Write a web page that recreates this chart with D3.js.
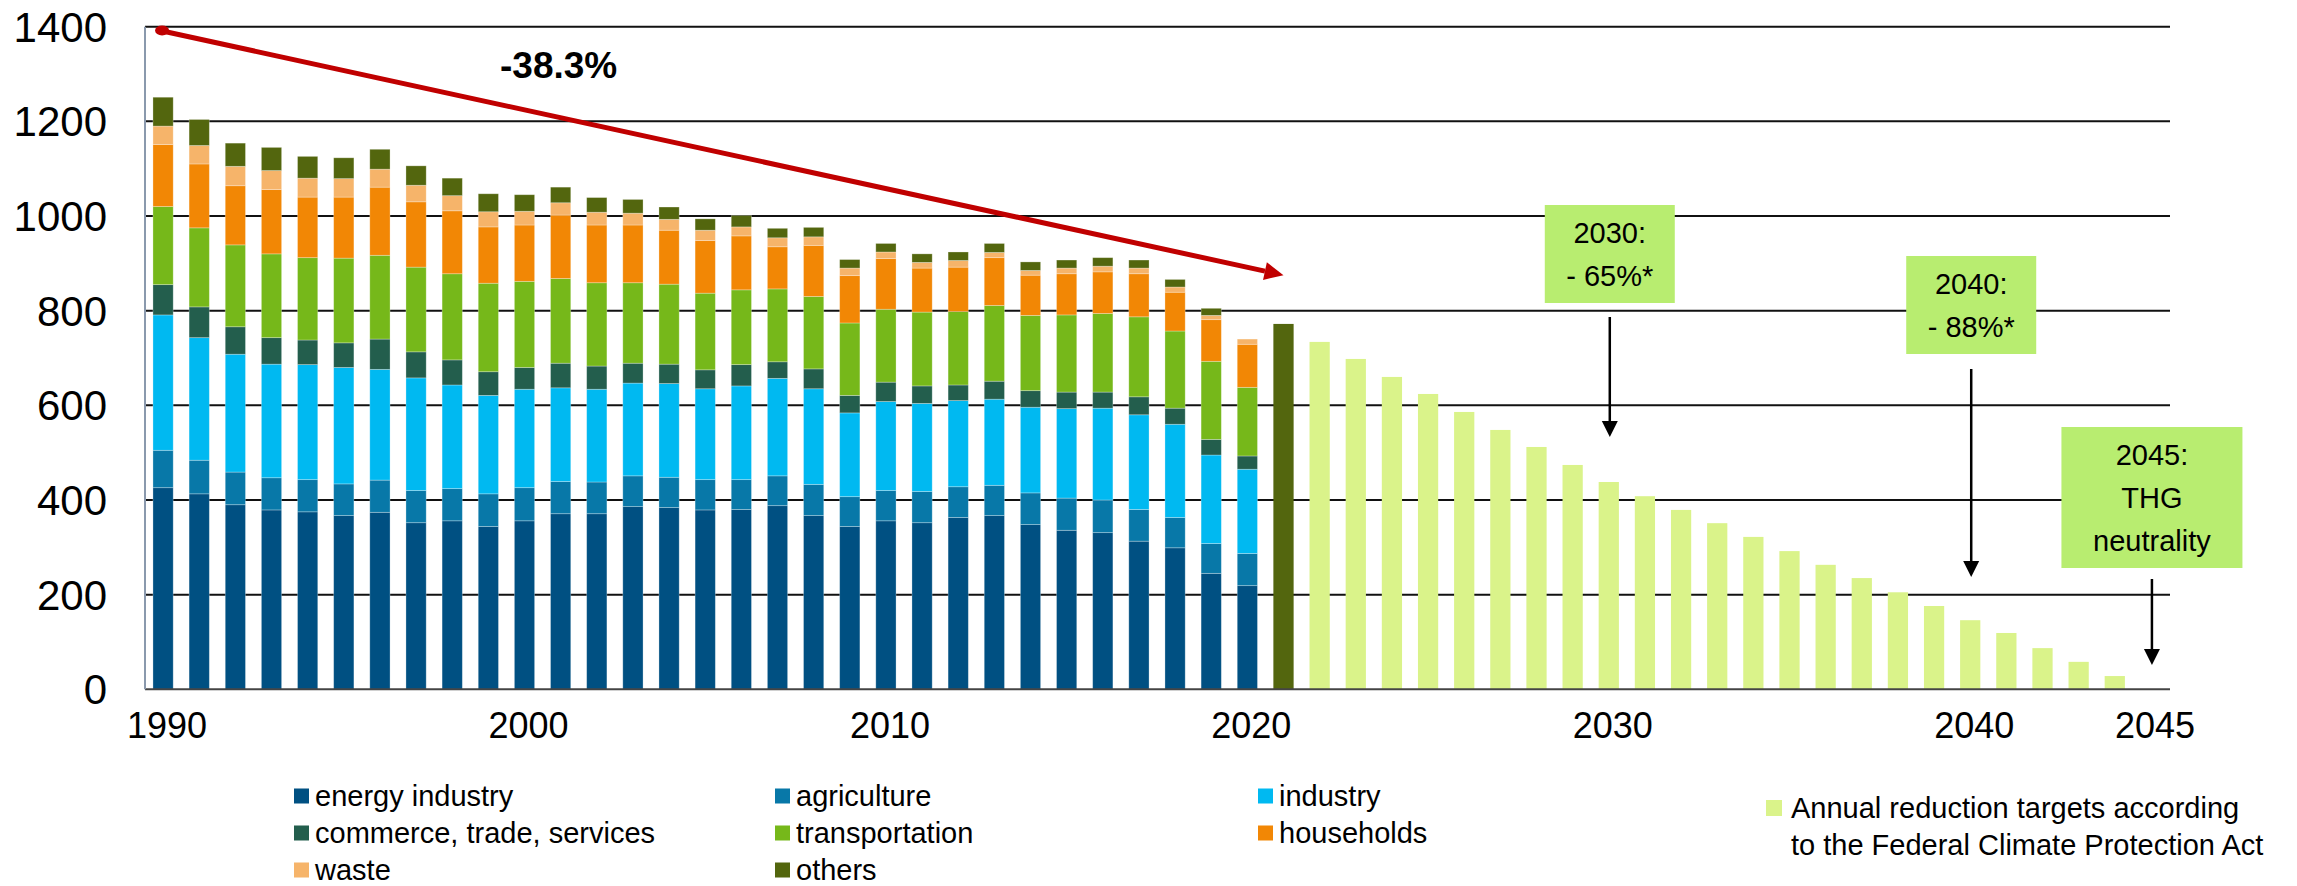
<!DOCTYPE html>
<html>
<head>
<meta charset="utf-8">
<script src="https://cdn.jsdelivr.net/npm/d3@7"></script>
<style>
  body { margin: 0; background: #fff; }
  svg { display: block; font-family: "Liberation Sans", Arial, sans-serif; }
</style>
</head>
<body>
<div id="chart"></div>
<script>
// historic emissions by sector, 1990-2020 (Mt CO2 eq.)
const years = [1990,1991,1992,1993,1994,1995,1996,1997,1998,1999,2000,2001,2002,2003,2004,2005,
               2006,2007,2008,2009,2010,2011,2012,2013,2014,2015,2016,2017,2018,2019,2020];
const energy      = [426,413,390,379,375,367,374,352,356,344,356,371,371,386,384,379,380,388,367,344,356,352,363,367,348,336,331,313,299,245,219];
const agriculture = [79,71,69,68,68,67,68,68,68,69,70,68,67,65,64,64,63,63,66,63,64,66,65,64,67,68,69,67,64,63,68];
const industry    = [286,259,249,240,243,246,234,238,219,208,208,198,196,196,198,192,198,206,202,177,188,186,182,182,181,189,194,200,197,187,178];
const commerce    = [64,65,58,56,52,52,64,55,53,50,46,52,49,42,41,40,45,35,42,37,41,37,33,38,35,35,34,38,34,33,28];
const transport   = [165,167,173,177,174,179,177,179,182,187,182,179,176,170,169,162,158,154,153,153,154,156,155,160,159,163,166,169,163,165,145];
const households  = [131,135,125,136,128,129,144,138,133,119,119,134,122,122,114,111,114,89,108,100,107,93,94,101,85,87,88,91,82,88,91];
const waste       = [39,39,41,40,40,39,38,35,32,32,29,26,27,25,23,22,19,19,18,16,14,12,14,11,10,12,12,12,11,9,11];
const others      = [61,55,49,49,46,44,42,41,37,38,35,33,31,29,26,24,24,20,20,18,18,18,18,19,18,17,18,17,16,15,0];

const year2021 = 2021, value2021 = 772;

// annual targets of the Federal Climate Protection Act
const targetYears  = [2022,2023,2024,2025,2026,2027,2028,2029,2030,2031,2032,2033,2034,2035,2036,2037,2038,2039,2040,2041,2042,2043,2044];
const targetValues = [734,698,660,624,586,548,512,474,438,408,379,351,322,292,263,235,205,176,146,119,87,58,28];

const allYears = [...years, year2021, ...targetYears, 2045];
const yTicks = [0,200,400,600,800,1000,1200,1400];
const xTickYears = [1990,2000,2010,2020,2030,2040,2045];

const sectorKeys   = ["energy industry","agriculture","industry","commerce, trade, services","transportation","households","waste","others"];
const sectorSeries = [energy, agriculture, industry, commerce, transport, households, waste, others];
const sectorColors = ["#005082","#0878a8","#00b9f1","#235e4d","#76b81a","#f28705","#f6b46a","#53660e"];
const targetColor = "#daf38a", boxColor = "#b8ed70";

const width = 2297, height = 886;

const svg = d3.select("#chart").append("svg")
    .attr("width", width).attr("height", height)
    .attr("viewBox", [0, 0, width, height]);

const x = d3.scaleBand()
    .domain(allYears)
    .range([145, 2169])
    .paddingInner(0.44)
    .paddingOuter(0.22);

const y = d3.scaleLinear()
    .domain([0, 1400])
    .range([689.3, 26.7]);

const xc = yr => x(yr) + x.bandwidth() / 2;

// gridlines
svg.append("g")
  .selectAll("line")
  .data(yTicks.filter(d => d > 0))
  .join("line")
    .attr("x1", 145).attr("x2", 2170)
    .attr("y1", d => y(d)).attr("y2", d => y(d))
    .attr("stroke", "#111").attr("stroke-width", 2);

// y labels
svg.append("g")
  .selectAll("text")
  .data(yTicks)
  .join("text")
    .attr("x", 107)
    .attr("y", d => y(d))
    .attr("dy", "0.36em")
    .attr("text-anchor", "end")
    .style("font-size", "42px")
    .text(d => d);

// stacked bars
const table = years.map((yr, i) => {
  const row = { year: yr };
  sectorKeys.forEach((k, j) => row[k] = sectorSeries[j][i]);
  return row;
});
const stacked = d3.stack().keys(sectorKeys)(table);

svg.append("g")
  .selectAll("g")
  .data(stacked)
  .join("g")
    .attr("fill", (d, i) => sectorColors[i])
  .selectAll("rect")
  .data(d => d)
  .join("rect")
    .attr("x", d => x(d.data.year))
    .attr("width", x.bandwidth())
    .attr("y", d => y(d[1]))
    .attr("height", d => Math.max(0, y(d[0]) - y(d[1])))
    .attr("stroke", "rgba(255,255,255,0.35)")
    .attr("stroke-width", 0.8);

// 2021 estimate
svg.append("rect")
    .attr("x", x(year2021))
    .attr("width", x.bandwidth())
    .attr("y", y(value2021))
    .attr("height", y(0) - y(value2021))
    .attr("fill", "#53660e");

// target bars
svg.append("g")
  .selectAll("rect")
  .data(targetYears.map((yr, i) => ({ year: yr, value: targetValues[i] })))
  .join("rect")
    .attr("x", d => x(d.year))
    .attr("width", x.bandwidth())
    .attr("y", d => y(d.value))
    .attr("height", d => y(0) - y(d.value))
    .attr("fill", targetColor);

// axes lines
svg.append("line")
    .attr("x1", 145).attr("x2", 2170)
    .attr("y1", y(0)).attr("y2", y(0))
    .attr("stroke", "#444").attr("stroke-width", 2);
svg.append("line")
    .attr("x1", 145).attr("x2", 145)
    .attr("y1", y(1400)).attr("y2", y(0))
    .attr("stroke", "#8a99ad").attr("stroke-width", 2);

// x labels
svg.append("g")
  .selectAll("text")
  .data(xTickYears)
  .join("text")
    .attr("x", d => xc(d) + 4)
    .attr("y", 738)
    .attr("text-anchor", "middle")
    .style("font-size", "36px")
    .text(d => d);

// red trend arrow
const x0 = xc(1990) - 3, y0 = y(1392);
const x1 = xc(2021), y1 = y(875);
const ang = Math.atan2(y1 - y0, x1 - x0);
const headL = 19, headW = 9;
const bx = x1 - headL * Math.cos(ang), by = y1 - headL * Math.sin(ang);
svg.append("line")
    .attr("x1", x0).attr("y1", y0)
    .attr("x2", bx).attr("y2", by)
    .attr("stroke", "#c00000").attr("stroke-width", 5);
svg.append("ellipse")
    .attr("cx", x0 + 2).attr("cy", y0)
    .attr("rx", 7).attr("ry", 5)
    .attr("fill", "#c00000");
svg.append("polygon")
    .attr("points", [
      [x1, y1],
      [bx + headW * Math.sin(ang), by - headW * Math.cos(ang)],
      [bx - headW * Math.sin(ang), by + headW * Math.cos(ang)]
    ].map(p => p.join(",")).join(" "))
    .attr("fill", "#c00000");

svg.append("text")
    .attr("x", 500).attr("y", 78)
    .style("font-size", "37px")
    .style("font-weight", "bold")
    .text("-38.3%");

// target annotation boxes and arrows
const notes = [
  { year: 2030, top: 205, w: 130, h: 98, lines: ["2030:", "- 65%*"], arrowFrom: 317, arrowTo: 437 },
  { year: 2040, top: 256, w: 130, h: 98, lines: ["2040:", "- 88%*"], arrowFrom: 369, arrowTo: 577 },
  { year: 2045, top: 427, w: 181, h: 141, lines: ["2045:", "THG", "neutrality"], arrowFrom: 579, arrowTo: 665 }
];

const note = svg.append("g").selectAll("g").data(notes).join("g");
note.append("rect")
    .attr("x", d => xc(d.year) + 1 - d.w / 2)
    .attr("y", d => d.top)
    .attr("width", d => d.w).attr("height", d => d.h)
    .attr("fill", boxColor);
note.each(function(d) {
  const g = d3.select(this);
  d.lines.forEach((t, i) => {
    g.append("text")
      .attr("x", xc(d.year) + 1)
      .attr("y", d.top + 28 + i * 43)
      .attr("dy", "0.36em")
      .attr("text-anchor", "middle")
      .style("font-size", "29px")
      .text(t);
  });
  g.append("line")
    .attr("x1", xc(d.year) + 1).attr("x2", xc(d.year) + 1)
    .attr("y1", d.arrowFrom).attr("y2", d.arrowTo - 14)
    .attr("stroke", "#000").attr("stroke-width", 2.5);
  const tx = xc(d.year) + 1;
  g.append("polygon")
    .attr("points", `${tx},${d.arrowTo} ${tx - 8},${d.arrowTo - 16} ${tx + 8},${d.arrowTo - 16}`)
    .attr("fill", "#000");
});

// legend
const legendCols = [294, 775, 1258];
const legendRows = [796, 833, 870];
const legend = svg.append("g")
  .selectAll("g")
  .data(sectorKeys)
  .join("g")
    .attr("transform", (d, i) => `translate(${legendCols[i % 3]},${legendRows[Math.floor(i / 3)]})`);
legend.append("rect")
    .attr("x", 0).attr("y", -7.5)
    .attr("width", 15).attr("height", 15)
    .attr("fill", (d, i) => sectorColors[i]);
legend.append("text")
    .attr("x", 21).attr("y", 0)
    .attr("dy", "0.36em")
    .style("font-size", "29px")
    .text(d => d);

const tl = svg.append("g").attr("transform", "translate(1766,808)");
tl.append("rect")
    .attr("x", 0).attr("y", -8)
    .attr("width", 16).attr("height", 16)
    .attr("fill", targetColor);
tl.selectAll("text")
  .data(["Annual reduction targets according", "to the Federal Climate Protection Act"])
  .join("text")
    .attr("x", 25)
    .attr("y", (d, i) => i * 37)
    .attr("dy", "0.36em")
    .style("font-size", "29px")
    .text(d => d);
</script>
</body>
</html>
